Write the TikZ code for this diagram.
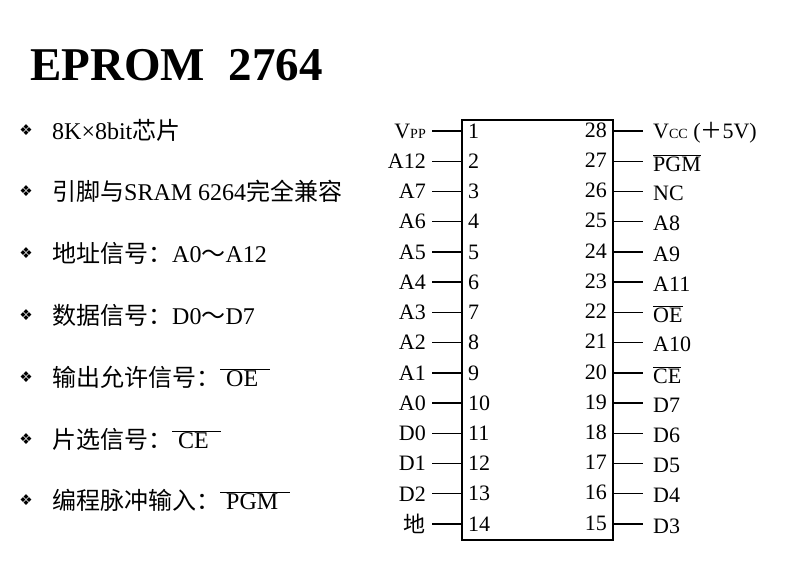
\documentclass[tikz,border=0pt]{standalone}
\usepackage{fontspec}
\setmainfont{Liberation Serif}
\newfontfamily\cjk{Noto Sans CJK SC}
\newfontfamily\djvfont{DejaVu Sans}
\newcommand{\ovl}[1]{$\overline{\mbox{#1}}$}
\begin{document}
\begin{tikzpicture}[x=1pt,y=-1pt,
  bul/.style={anchor=west,font=\fontsize{24}{26}\selectfont,inner sep=0pt},
  pl/.style={font=\fontsize{22}{24}\selectfont,inner sep=0pt},
  pin/.style={line width=1.4pt}]
\useasboundingbox (0,0) rectangle (791,565);
\node[anchor=west,inner sep=0pt,font=\fontsize{47}{49}\selectfont\bfseries] (title) at (30,65) {EPROM\ \ 2764};
\foreach \y/\t [count=\i] in {130/{8K×8bit{\cjk 芯片}},
 191/{{\cjk 引脚与}SRAM 6264{\cjk 完全兼容}},
 253/{{\cjk 地址信号：}A0{\cjk ～}A12},
 315/{{\cjk 数据信号：}D0{\cjk ～}D7},
 377/{{\cjk 输出允许信号：}\ovl{\ OE\ \ }},
 439/{{\cjk 片选信号：}\ovl{\ CE\ \ }},
 500/{{\cjk 编程脉冲输入：}\ovl{\ PGM\ \ }}}{
  \node[inner sep=0pt,font=\djvfont\fontsize{15}{15}\selectfont] (b\i) at (26,\y) {❖};
  \node[bul] (t\i) at (52,\y) {\t};
}
\draw[line width=1.4pt] (462,120) rectangle (613,540);
\node[inner sep=0pt] (chip) at (537,330) {};
\foreach \l [count=\i] in {V{\fontsize{14}{14}\selectfont PP},A12,A7,A6,A5,A4,A3,A2,A1,A0,D0,D1,D2,{\cjk 地}}{
  \pgfmathsetmacro\yy{131+(\i-1)*30.23}
  \coordinate (L\i) at (432,\yy);
  \coordinate (LL\i) at (462,\yy);
  \draw[pin] (L\i) -- (LL\i);
  \node[pl,anchor=east] (ln\i) at (426,\yy) {\l};
  \node[pl,anchor=west] (lnum\i) at (468,\yy) {\i};
}
\foreach \l [count=\i] in {{V{\fontsize{14}{14}\selectfont CC}\ ({\cjk ＋}5V)},\ovl{PGM},NC,A8,A9,A11,\ovl{OE},A10,\ovl{CE},D7,D6,D5,D4,D3}{
  \pgfmathsetmacro\yy{131+(\i-1)*30.23}
  \pgfmathtruncatemacro\n{29-\i}
  \coordinate (R\i) at (643,\yy);
  \coordinate (RR\i) at (613,\yy);
  \draw[pin] (RR\i) -- (R\i);
  \node[pl,anchor=west] (rn\i) at (653,\yy+2) {\l};
  \node[pl,anchor=east] (rnum\i) at (607,\yy-1) {\n};
}
\end{tikzpicture}
\end{document}
